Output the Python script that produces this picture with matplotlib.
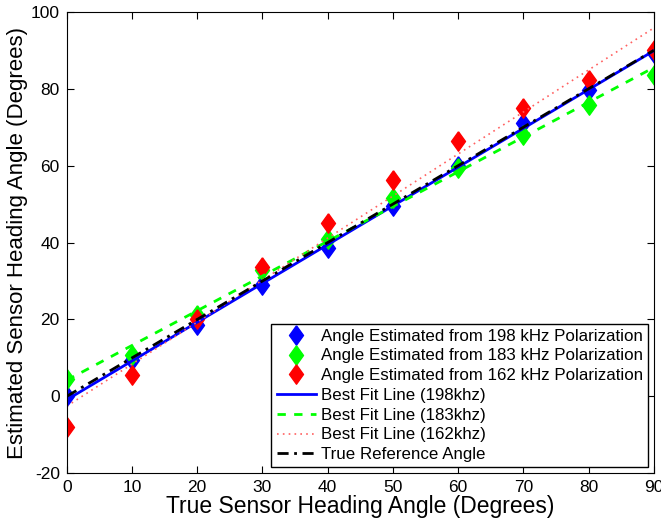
import numpy as np
import matplotlib
matplotlib.use('Agg')
import matplotlib.pyplot as plt

plt.rcParams['font.family'] = ['Liberation Sans', 'DejaVu Sans']
plt.rcParams['axes.unicode_minus'] = False

true_angle = [0, 10, 20, 30, 40, 50, 60, 70, 80, 90]
est_198 = [0.0, 9.4, 18.5, 28.9, 38.5, 49.5, 60.0, 71.0, 79.8, 89.4]
est_183 = [4.6, 10.7, 21.1, 32.9, 41.0, 51.5, 59.4, 68.0, 75.9, 83.5]
est_162 = [-8.0, 5.5, 20.1, 33.7, 45.0, 56.3, 66.3, 75.0, 82.4, 90.0]

x = np.array(true_angle)
diamond = [(0, 1), (0.72, 0), (0, -1), (-0.72, 0), (0, 1)]

fig = plt.figure(figsize=(6.61, 5.2), dpi=100)
ax = fig.add_axes([0.101, 0.09, 0.888, 0.887])

ax.plot(x, est_198, linestyle='none', marker=diamond, markersize=14, color='#0000ff',
        label='Angle Estimated from 198 kHz Polarization')
ax.plot(x, est_183, linestyle='none', marker=diamond, markersize=14, color='#00ff00',
        label='Angle Estimated from 183 kHz Polarization')
ax.plot(x, est_162, linestyle='none', marker=diamond, markersize=14, color='#ff0000',
        label='Angle Estimated from 162 kHz Polarization')

p198 = np.polyfit(x, est_198, 1)
p183 = np.polyfit(x, est_183, 1)
p162 = np.polyfit(x, est_162, 1)
ax.plot(x, np.polyval(p198, x), '-', color='#0000ff', lw=2, label='Best Fit Line (198khz)')
ax.plot(x, np.polyval(p183, x), '--', color='#00ff00', lw=2, dashes=(3, 3),
        label='Best Fit Line (183khz)')
ax.plot(x, np.polyval(p162, x), ':', color='#ff6060', lw=1.2, dashes=(1, 2.5),
        label='Best Fit Line (162khz)')
ax.plot(x, x, '-.', color='black', lw=2, dashes=(4, 2, 1, 2), label='True Reference Angle')

ax.set_xlim(0, 90)
ax.set_ylim(-20, 100)
ax.set_xticks(range(0, 91, 10))
ax.set_yticks(range(-20, 101, 20))
ax.tick_params(direction='in', top=True, right=True, labelsize=12.5, length=5, pad=5)
ax.set_xlabel('True Sensor Heading Angle (Degrees)', fontsize=16.5, labelpad=0)
ax.set_ylabel('Estimated Sensor Heading Angle (Degrees)', fontsize=16, labelpad=2)

leg = ax.legend(loc='lower right', fontsize=12.2, fancybox=False, edgecolor='black',
                framealpha=1, borderaxespad=0.35, handlelength=2.3, labelspacing=0.28,
                handletextpad=0.3, borderpad=0.3)
leg.get_frame().set_linewidth(1)

fig.savefig('out.png', dpi=100)
